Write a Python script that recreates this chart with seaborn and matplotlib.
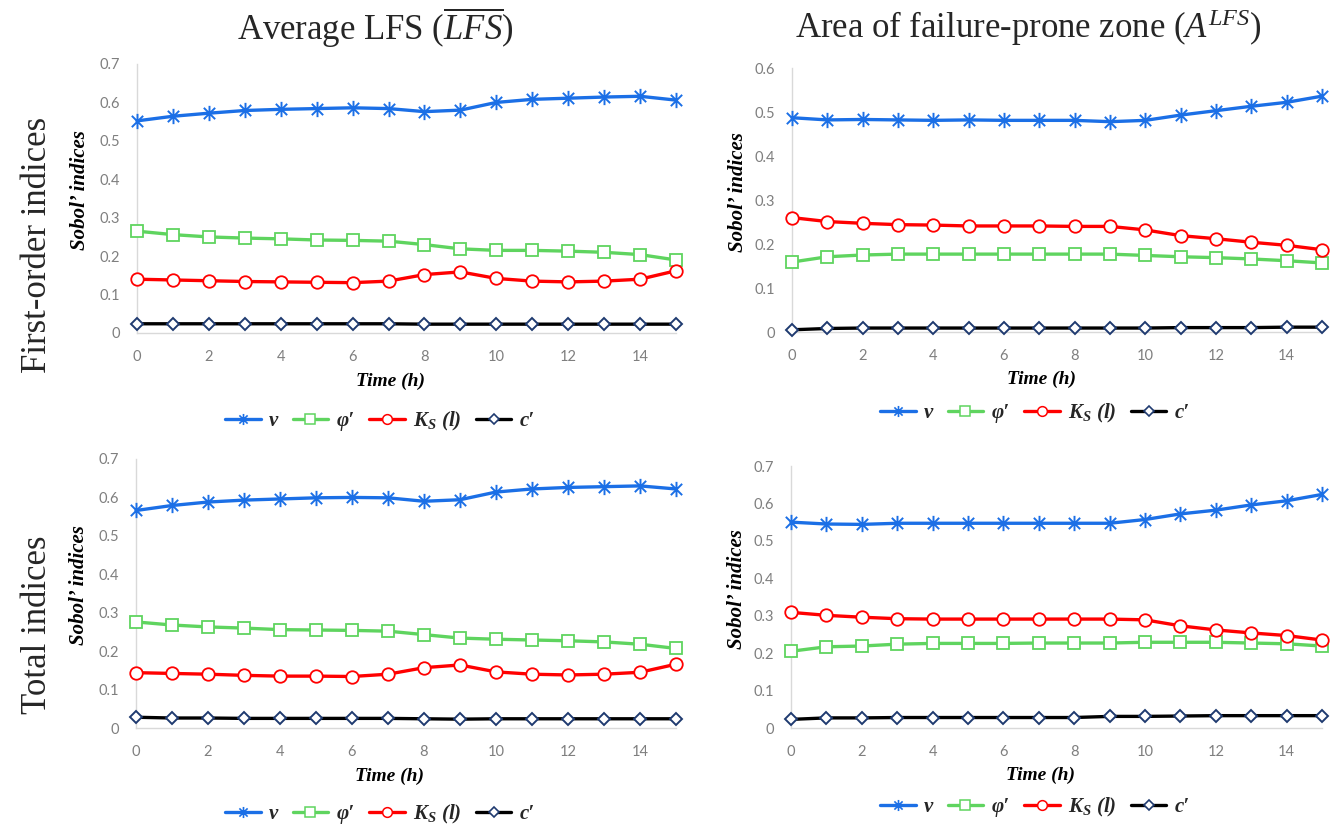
import matplotlib
matplotlib.use("Agg")
import matplotlib.pyplot as plt
import seaborn as sns
import pandas as pd
from matplotlib.lines import Line2D
from matplotlib.path import Path
from matplotlib.font_manager import FontProperties

# ---------------------------------------------------------------- data
hours = list(range(16))
x_ticks = [0, 2, 4, 6, 8, 10, 12, 14]

# First-order indices, average LFS
fo_lfs_v   = [0.552, 0.564, 0.572, 0.579, 0.582, 0.584, 0.586, 0.584, 0.576, 0.580, 0.600, 0.608, 0.611, 0.614, 0.616, 0.606]
fo_lfs_phi = [0.265, 0.256, 0.250, 0.247, 0.245, 0.242, 0.241, 0.239, 0.230, 0.219, 0.215, 0.215, 0.213, 0.210, 0.204, 0.190]
fo_lfs_ks  = [0.140, 0.138, 0.136, 0.134, 0.133, 0.132, 0.131, 0.135, 0.152, 0.159, 0.142, 0.135, 0.133, 0.135, 0.140, 0.162]
fo_lfs_c   = [0.024, 0.024, 0.024, 0.024, 0.024, 0.024, 0.024, 0.024, 0.023, 0.023, 0.023, 0.023, 0.023, 0.023, 0.023, 0.023]

# First-order indices, area of failure-prone zone
fo_area_v   = [0.487, 0.482, 0.483, 0.482, 0.481, 0.482, 0.481, 0.481, 0.481, 0.478, 0.481, 0.493, 0.503, 0.513, 0.522, 0.536]
fo_area_phi = [0.159, 0.171, 0.175, 0.177, 0.177, 0.177, 0.177, 0.177, 0.177, 0.177, 0.174, 0.171, 0.169, 0.166, 0.162, 0.157]
fo_area_ks  = [0.260, 0.251, 0.247, 0.244, 0.243, 0.241, 0.241, 0.241, 0.240, 0.240, 0.232, 0.219, 0.212, 0.204, 0.197, 0.187]
fo_area_c   = [0.005, 0.008, 0.009, 0.009, 0.009, 0.009, 0.009, 0.009, 0.009, 0.009, 0.009, 0.010, 0.010, 0.010, 0.011, 0.011]

# Total indices, average LFS
tot_lfs_v   = [0.566, 0.579, 0.588, 0.593, 0.596, 0.599, 0.600, 0.599, 0.590, 0.594, 0.614, 0.622, 0.626, 0.628, 0.630, 0.622]
tot_lfs_phi = [0.276, 0.268, 0.263, 0.260, 0.256, 0.255, 0.254, 0.252, 0.243, 0.234, 0.231, 0.229, 0.227, 0.224, 0.218, 0.207]
tot_lfs_ks  = [0.144, 0.142, 0.140, 0.137, 0.135, 0.135, 0.134, 0.140, 0.157, 0.164, 0.146, 0.140, 0.138, 0.140, 0.145, 0.166]
tot_lfs_c   = [0.028, 0.026, 0.026, 0.025, 0.025, 0.025, 0.025, 0.025, 0.024, 0.023, 0.024, 0.024, 0.024, 0.024, 0.024, 0.024]

# Total indices, area of failure-prone zone
tot_area_v   = [0.550, 0.545, 0.544, 0.547, 0.547, 0.547, 0.547, 0.547, 0.547, 0.547, 0.557, 0.572, 0.582, 0.596, 0.607, 0.624]
tot_area_phi = [0.205, 0.217, 0.219, 0.224, 0.226, 0.226, 0.226, 0.227, 0.227, 0.227, 0.229, 0.229, 0.229, 0.227, 0.225, 0.219]
tot_area_ks  = [0.309, 0.301, 0.296, 0.292, 0.291, 0.291, 0.291, 0.291, 0.291, 0.291, 0.289, 0.273, 0.262, 0.254, 0.247, 0.235]
tot_area_c   = [0.023, 0.027, 0.027, 0.028, 0.028, 0.028, 0.028, 0.028, 0.028, 0.031, 0.031, 0.032, 0.033, 0.033, 0.033, 0.033]

y_ticks_07 = [0, 0.1, 0.2, 0.3, 0.4, 0.5, 0.6, 0.7]
y_labels_07 = ["0", "0.1", "0.2", "0.3", "0.4", "0.5", "0.6", "0.7"]
y_ticks_06 = [0, 0.1, 0.2, 0.3, 0.4, 0.5, 0.6]
y_labels_06 = ["0", "0.1", "0.2", "0.3", "0.4", "0.5", "0.6"]

series_labels = ["v", "\u03c6\u2032", r"$\mathbf{K_S}$ (l)", "c\u2032"]
col_titles = [r"Average LFS ($\overline{LFS}$)", r"Area of failure-prone zone ($A^{LFS}$)"]
row_titles = ["First-order indices", "Total indices"]

# ---------------------------------------------------------------- style
sns.set_theme(style="white")
plt.rcParams["font.family"] = ["Liberation Serif", "DejaVu Sans"]
plt.rcParams["mathtext.fontset"] = "custom"
plt.rcParams["mathtext.rm"] = "Liberation Serif"
plt.rcParams["mathtext.it"] = "Liberation Serif:italic"
plt.rcParams["mathtext.bf"] = "Liberation Serif:bold:italic"

# Excel-style asterisk: an "x" crossed by a vertical stroke
star = Path([(-1, -1), (1, 1), (-1, 1), (1, -1), (0, -1.35), (0, 1.35)],
            [Path.MOVETO, Path.LINETO, Path.MOVETO, Path.LINETO, Path.MOVETO, Path.LINETO])

styles = [
    dict(color="#1b6fe6", marker=star, ms=11, mec="#1b6fe6", mfc="none", mew=1.4),
    dict(color="#5fd45f", marker="s", ms=9, mec="#5fd45f", mfc="white", mew=1.3),
    dict(color="#ff0000", marker="o", ms=9, mec="#ff0000", mfc="white", mew=1.3),
    dict(color="#000000", marker="D", ms=6.5, mec="#1f3a70", mfc="white", mew=1.4),
]
legend_styles = [
    dict(color="#1b6fe6", marker=star, ms=8, mec="#1b6fe6", mfc="none", mew=1.2),
    dict(color="#5fd45f", marker="s", ms=7, mec="#5fd45f", mfc="white", mew=1.1),
    dict(color="#ff0000", marker="o", ms=7, mec="#ff0000", mfc="white", mew=1.1),
    dict(color="#000000", marker="D", ms=5, mec="#1f3a70", mfc="white", mew=1.2),
]

tick_font = FontProperties(family="Lato", size=10.5)
label_font = FontProperties(family="Liberation Serif", weight="bold", style="italic", size=15)
xlabel_font = FontProperties(family="Liberation Serif", weight="bold", style="italic", size=14)
legend_font = FontProperties(family="Liberation Serif", weight="bold", style="italic", size=15)

W, H = 1340, 826
fig = plt.figure(figsize=(W / 100, H / 100), dpi=100)


def px_axes(x0, x1, y0, y1):
    """Axes from pixel edges: x0/x1 left/right, y0 bottom, y1 top (pixels from top)."""
    return fig.add_axes([x0 / W, 1 - y0 / H, (x1 - x0) / W, (y0 - y1) / H])


panels = [
    # (axes pixel box, series, ymax, ticks, labels, legend centre, ylabel x)
    ((137, 676, 333, 64), [fo_lfs_v, fo_lfs_phi, fo_lfs_ks, fo_lfs_c], 0.7, y_ticks_07, y_labels_07, (380, 421), -0.087),
    ((792, 1322, 332, 68), [fo_area_v, fo_area_phi, fo_area_ks, fo_area_c], 0.6, y_ticks_06, y_labels_06, (1035, 413), -0.083),
    ((136, 676, 728, 459), [tot_lfs_v, tot_lfs_phi, tot_lfs_ks, tot_lfs_c], 0.7, y_ticks_07, y_labels_07, (380, 814), -0.087),
    ((791, 1322, 728, 466), [tot_area_v, tot_area_phi, tot_area_ks, tot_area_c], 0.7, y_ticks_07, y_labels_07, (1035, 807), -0.083),
]

for (box, series, ymax, yt, yl, leg_xy, ylab_x) in panels:
    ax = px_axes(*box)
    for vals, st in zip(series, styles):
        df = pd.DataFrame({"hour": hours, "value": vals})
        sns.lineplot(data=df, x="hour", y="value", ax=ax, lw=2.4, clip_on=False,
                     zorder=3, **st)
    ax.set_xlim(0, 15)
    ax.set_ylim(0, ymax)
    ax.set_xticks(x_ticks)
    ax.set_xticklabels([str(t) for t in x_ticks])
    ax.set_yticks(yt)
    ax.set_yticklabels(yl)
    for lab in ax.get_xticklabels() + ax.get_yticklabels():
        lab.set_fontproperties(tick_font)
        lab.set_color("#7f7f7f")
    ax.tick_params(axis="both", length=0)
    ax.tick_params(axis="x", pad=12)
    ax.tick_params(axis="y", pad=12)
    for side in ("top", "right"):
        ax.spines[side].set_visible(False)
    for side in ("left", "bottom"):
        ax.spines[side].set_color("#d9d9d9")
        ax.spines[side].set_linewidth(1.0)
    ax.grid(False)

    ax.set_ylabel("Sobol\u2019 indices", fontproperties=label_font, color="black")
    ax.yaxis.set_label_coords(ylab_x, 0.53)
    ax.set_xlabel("Time (h)", fontproperties=xlabel_font, color="black")
    ax.xaxis.set_label_coords(0.47, -0.148)

    handles = [Line2D([], [], lw=2.4, **st) for st in legend_styles]
    fig.legend(handles, series_labels, loc="center",
               bbox_to_anchor=(leg_xy[0] / W, 1 - leg_xy[1] / H),
               ncol=4, frameon=False, prop=legend_font,
               handlelength=1.7, handletextpad=0.4, columnspacing=0.7)

# column and row headings
fig.text(375 / W, 1 - 28 / H, col_titles[0], ha="center", va="center", fontsize=25)
fig.text(1028 / W, 1 - 28 / H, col_titles[1], ha="center", va="center", fontsize=25)
fig.text(38 / W, 1 - 245 / H, row_titles[0], rotation=90, ha="center", va="center", fontsize=25)
fig.text(38 / W, 1 - 625 / H, row_titles[1], rotation=90, ha="center", va="center", fontsize=25)

fig.savefig("out.png", dpi=100, facecolor="white")
